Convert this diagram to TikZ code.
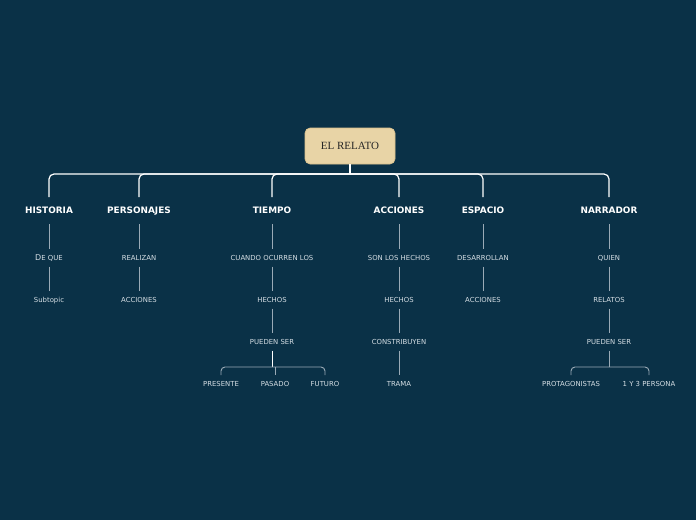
\documentclass[tikz,border=0pt]{standalone}
\usepackage{fontspec}
\setmainfont{DejaVu Sans}
\newfontfamily\rootfont{Liberation Serif}
\definecolor{bg}{HTML}{0A3147}
\definecolor{rootfill}{HTML}{E8D4A6}
\definecolor{rootbd}{HTML}{D9C08C}
\definecolor{subtxt}{HTML}{D5DEE4}
\definecolor{subln}{HTML}{9AAAB6}
\begin{document}
\begin{tikzpicture}[x=1pt,y=-1pt,
  rootbox/.style={fill=rootfill,draw=rootbd,line width=0.6pt,rounded corners=5pt,minimum width=90pt,minimum height=36pt,font=\rootfont\fontsize{11}{13}\selectfont,text=black!85},
  maintopic/.style={text=white,font=\bfseries\fontsize{8.9}{10}\selectfont,inner sep=0pt,text height=6.5pt,text depth=0pt},
  subtopic/.style={text=subtxt,font=\fontsize{6.9}{8}\selectfont,inner sep=0pt,text height=5pt,text depth=0pt},
  mainln/.style={draw=white,line width=1.2pt,rounded corners=5pt},
  subln/.style={draw=subln,line width=0.9pt},
  brln/.style={draw=subln,line width=0.9pt,rounded corners=4pt}]
\fill[bg] (0,0) rectangle (696,520);
\useasboundingbox (0,0) rectangle (696,520);
\node[rootbox] (root) at (350,146) {EL RELATO};
% main topics
\node[maintopic] (his) at (49,210) {HISTORIA};
\node[maintopic] (per) at (139,210) {PERSONAJES};
\node[maintopic] (tie) at (272,210) {TIEMPO};
\node[maintopic] (acc) at (399,210) {ACCIONES};
\node[maintopic] (esp) at (483,210) {ESPACIO};
\node[maintopic] (nar) at (609,210) {NARRADOR};
\coordinate (hub) at (350,174);
\draw[mainln] (root.south) -- (hub);
\foreach \n/\x in {his/49,per/139,tie/272,acc/399,esp/483,nar/609}{
  \draw[mainln] (hub) -- (\x,174) -- (\x,197);
}
% HISTORIA
\node[subtopic] (h1) at (49,257.5) {{\fontsize{8}{8}\selectfont D}E QUE};
\node[subtopic] (h2) at (49,299.5) {Subtopic};
% PERSONAJES
\node[subtopic] (p1) at (139,257.5) {REALIZAN};
\node[subtopic] (p2) at (139,299.5) {ACCIONES};
% TIEMPO
\node[subtopic] (t1) at (272,257.5) {CUANDO OCURREN LOS};
\node[subtopic] (t2) at (272,299.5) {HECHOS};
\node[subtopic] (t3) at (272,341.5) {PUEDEN SER};
\node[subtopic] (t4) at (221,383.5) {PRESENTE};
\node[subtopic] (t5) at (275,383.5) {PASADO};
\node[subtopic] (t6) at (325,383.5) {FUTURO};
% ACCIONES
\node[subtopic] (a1) at (399,257.5) {SON LOS HECHOS};
\node[subtopic] (a2) at (399,299.5) {HECHOS};
\node[subtopic] (a3) at (399,341.5) {CONSTRIBUYEN};
\node[subtopic] (a4) at (399,383.5) {TRAMA};
% ESPACIO
\node[subtopic] (e1) at (483,257.5) {DESARROLLAN};
\node[subtopic] (e2) at (483,299.5) {ACCIONES};
% NARRADOR
\node[subtopic] (n1) at (609,257.5) {QUIEN};
\node[subtopic] (n2) at (609,299.5) {RELATOS};
\node[subtopic] (n3) at (609,341.5) {PUEDEN SER};
\node[subtopic] (n4) at (571,383.5) {PROTAGONISTAS};
\node[subtopic] (n5) at (649,383.5) {1 Y 3 PERSONA};
% vertical sub connectors from main topics
\foreach \a/\b in {his/h1,per/p1,tie/t1,acc/a1,esp/e1,nar/n1}{
  \draw[subln] ([yshift=-14pt]\a.center) -- ([yshift=9pt]\b.center);
}
% vertical sub connectors between subtopics
\foreach \a/\b in {h1/h2,p1/p2,t1/t2,t2/t3,a1/a2,a2/a3,a3/a4,e1/e2,n1/n2,n2/n3}{
  \draw[subln] ([yshift=-9pt]\a.center) -- ([yshift=9pt]\b.center);
}
% branch TIEMPO
\coordinate (tb) at (272,367);
\draw[white,line width=0.9pt] ([yshift=-9pt]t3.center) -- (tb);
\draw[brln] (tb) -- (221,367) -- (221,375);
\draw[brln] (tb) -- (325,367) -- (325,375);
\draw[subln] (275,367) -- (275,375);
% branch NARRADOR
\coordinate (nb) at (609,367);
\draw[subln] ([yshift=-9pt]n3.center) -- (nb);
\draw[brln] (nb) -- (571,367) -- (571,375);
\draw[brln] (nb) -- (649,367) -- (649,375);
\end{tikzpicture}
\end{document}
